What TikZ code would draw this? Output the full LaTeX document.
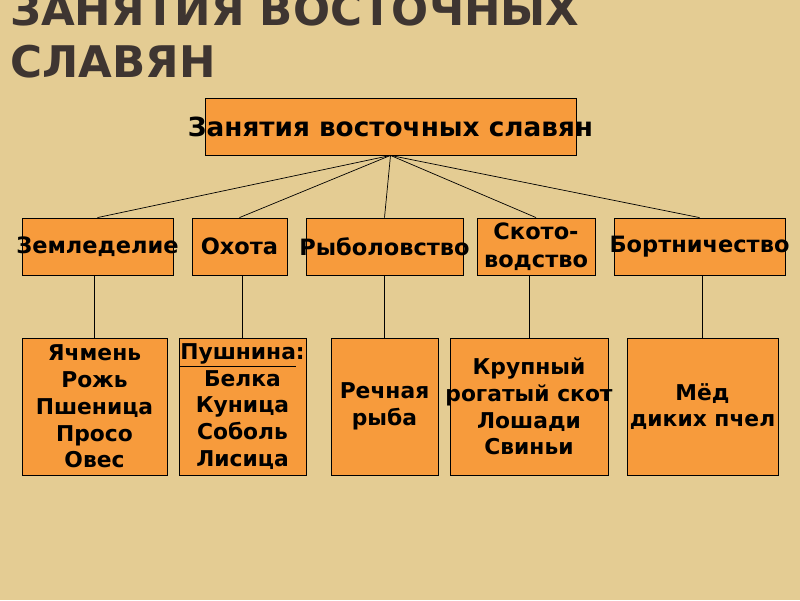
\documentclass[tikz,border=0pt]{standalone}
\usepackage{fontspec}
\setmainfont{DejaVu Sans}
\usepackage{tikz}
\definecolor{papiro}{HTML}{E4CC93}
\definecolor{arancio}{HTML}{F79B3C}
\definecolor{titolo}{HTML}{3E3531}
\newcommand{\ovf}[1]{\makebox[0pt]{#1}}

\begin{document}
\begin{tikzpicture}[x=0.025cm,y=-0.025cm]
\tikzstyle{casella} = [draw=black, line width=0.6pt, fill=arancio, inner sep=0pt, align=center, font=\bfseries\fontsize{15.5}{19}\selectfont]
\tikzstyle{ramo} = [line width=0.5pt]
\tikzstyle{testata} = [anchor=base west, text=titolo, inner sep=0pt, font=\bfseries\fontsize{31}{38}\selectfont]
\fill[papiro] (0,0) rectangle (800,600);
\useasboundingbox (0,0) rectangle (800,600);
% titolo
\node[testata] (t1) at (10,25) {ЗАНЯТИЯ ВОСТОЧНЫХ};
\node[testata] (t2) at (10,77) {СЛАВЯН};
% caselle
\node[casella, minimum width=9.275cm, minimum height=1.425cm, font=\bfseries\fontsize{18.7}{22}\selectfont] (top) at (390.5,126.5) {\ovf{Занятия восточных славян}};
\node[casella, minimum width=3.775cm, minimum height=1.425cm, font=\bfseries\fontsize{16}{19.5}\selectfont] (zem) at (97.5,246.5) {\ovf{Земледелие}};
\node[casella, minimum width=2.375cm, minimum height=1.425cm, font=\bfseries\fontsize{16}{19.5}\selectfont] (oh) at (239.5,246.5) {Охота};
\node[casella, minimum width=3.925cm, minimum height=1.425cm, font=\bfseries\fontsize{16}{19.5}\selectfont] (ryb) at (384.5,246.5) {\ovf{Рыболовство}};
\node[casella, minimum width=2.95cm, minimum height=1.425cm, font=\bfseries\fontsize{16}{20}\selectfont] (sko) at (536,246.5) {Ското-\\водство};
\node[casella, minimum width=4.275cm, minimum height=1.425cm, font=\bfseries\fontsize{16}{19.5}\selectfont] (bor) at (699.5,246.5) {\ovf{Бортничество}};
\node[casella, minimum width=3.625cm, minimum height=3.425cm] (zerno) at (94.5,406.5) {Ячмень\\Рожь\\Пшеница\\Просо\\Овес};
\node[casella, minimum width=3.175cm, minimum height=3.425cm] (pelle) at (242.5,406.5) {\underline{Пушнина}:\\Белка\\Куница\\Соболь\\Лисица};
\node[casella, minimum width=2.675cm, minimum height=3.425cm] (pesce) at (384.5,406.5) {Речная\\рыба};
\node[casella, minimum width=3.95cm, minimum height=3.425cm] (bestie) at (529,406.5) {Крупный\\\ovf{рогатый скот}\\Лошади\\Свиньи};
\node[casella, minimum width=3.775cm, minimum height=3.425cm] (miele) at (702.5,406.5) {Мёд\\\ovf{диких пчел}};
% rami
\draw[ramo] (top.south) -- (zem.north);
\draw[ramo] (top.south) -- (oh.north);
\draw[ramo] (top.south) -- (ryb.north);
\draw[ramo] (top.south) -- (sko.north);
\draw[ramo] (top.south) -- (bor.north);
\draw[ramo] (zem.south -| zerno.north) -- (zerno.north);
\draw[ramo] (oh.south -| pelle.north) -- (pelle.north);
\draw[ramo] (ryb.south -| pesce.north) -- (pesce.north);
\draw[ramo] (sko.south -| bestie.north) -- (bestie.north);
\draw[ramo] (bor.south -| miele.north) -- (miele.north);
\end{tikzpicture}
\end{document}
